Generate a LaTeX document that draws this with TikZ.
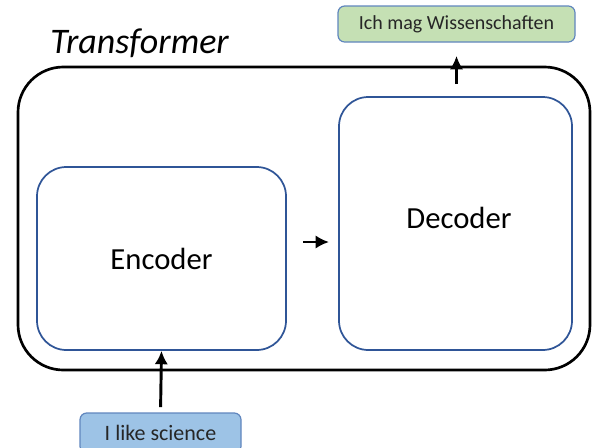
\documentclass[tikz,border=0pt]{standalone}
\usepackage{fontspec}
\setmainfont{Carlito}
\usepackage{xcolor}
\usepackage{tikz}
\usetikzlibrary{arrows.meta}

\definecolor{boxblue}{RGB}{47,85,151}
\definecolor{inblue}{RGB}{157,195,230}
\definecolor{outgreen}{RGB}{197,224,180}
\definecolor{edgeblue}{RGB}{96,134,190}

\tikzset{
	outerbox/.style={draw=black, line width=2pt, rounded corners=34pt, minimum width=429pt, minimum height=227.25pt},
	blockbox/.style={draw=boxblue, line width=1.3pt, rounded corners=22pt, font=\fontsize{23}{26}\selectfont},
	tokenbox/.style={draw=edgeblue, line width=0.9pt, rounded corners=5pt, text=black!85},
	flow/.style={-{Latex[length=10pt,width=10pt]}, line width=2.2pt}
}

\begin{document}
\begin{tikzpicture}[x=0.75pt,y=0.75pt,yscale=-1,xscale=1]
		\useasboundingbox (0,0) rectangle (595,447);
		\clip (0,0) rectangle (595,447);
		
		%Shape: outer rounded box
		\node [outerbox] (trafo) at (304,218.5) {};
		% Text Node
		\node [anchor=base west, inner sep=0pt, font=\fontsize{27}{30}\selectfont\itshape] (title) at (50,53) {Transformer};
		
		%Shape: encoder / decoder blocks
		\node [blockbox, minimum width=186.75pt, minimum height=137.25pt] (enc) at (161.5,258.5) {Encoder};
		\node [blockbox, minimum width=174.75pt, minimum height=189.75pt, text depth=0pt] (dec) at (455.5,223.5) {};
		\node [font=\fontsize{23}{26}\selectfont] (declbl) at (459,218) {Decoder};
		
		%Shape: input / output tokens
		\node [tokenbox, fill=inblue, minimum width=120.75pt, minimum height=30pt, font=\fontsize{16.5}{19}\selectfont] (inp) at (160.5,433) {\raisebox{-2pt}{I like science}};
		\node [tokenbox, fill=outgreen, minimum width=177.75pt, minimum height=27pt, font=\fontsize{15}{18}\selectfont] (out) at (456.5,24) {Ich mag Wissenschaften};
		
		% Arrows
		\coordinate (hopa) at (303,242);
		\coordinate (hopb) at (329,242);
		\draw [flow] (hopa) -- (hopb);
		\draw [flow, shorten <=4] (inp.north) -- (enc.south);
		\draw [flow, shorten <=9, shorten >=10] (dec.north -| out.south) -- (out.south);
\end{tikzpicture}
\end{document}
